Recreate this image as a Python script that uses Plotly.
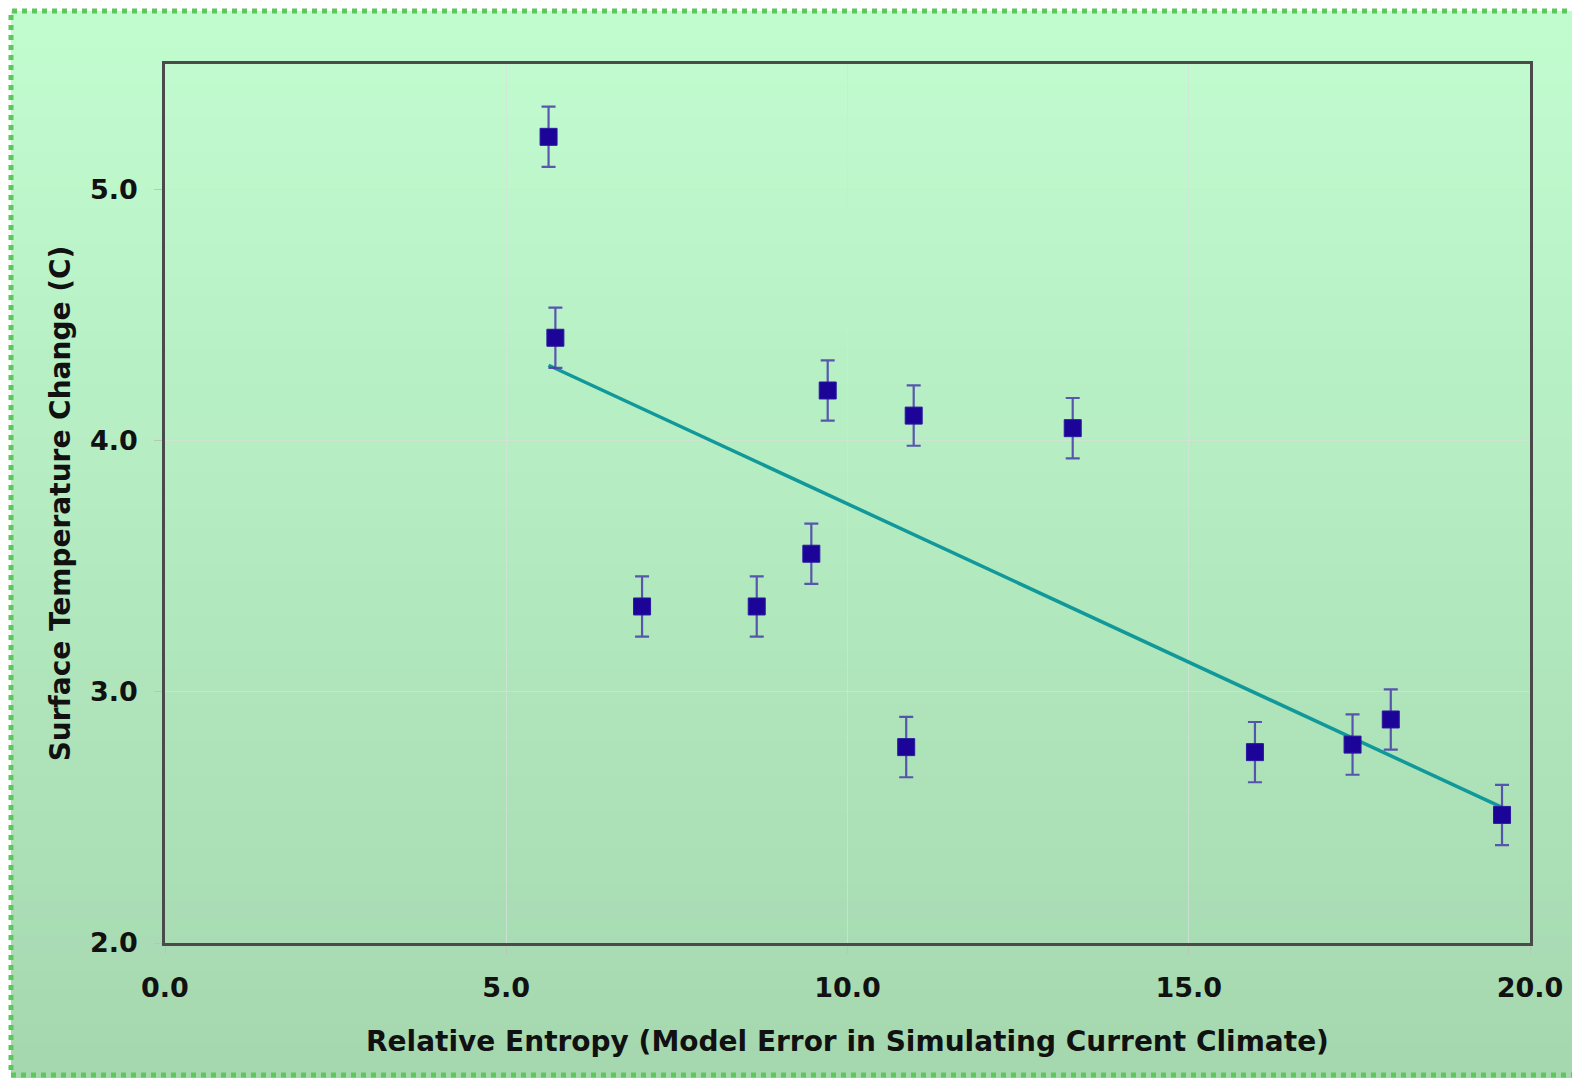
import numpy as np
import plotly.graph_objects as go

# ---- data ----
relative_entropy = [5.62, 5.72, 6.99, 8.67, 9.47, 9.71, 10.97, 10.86, 13.30, 15.97, 17.40, 17.96, 19.59]
temp_change = [5.21, 4.41, 3.34, 3.34, 3.55, 4.20, 4.10, 2.78, 4.05, 2.76, 2.79, 2.89, 2.51]
temp_error = [0.12] * 13

x_ticks = [0.0, 5.0, 10.0, 15.0, 20.0]
y_ticks = [2.0, 3.0, 4.0, 5.0]

x_title = "Relative Entropy (Model Error in Simulating Current Climate)"
y_title = "Surface Temperature Change (C)"

# ---- linear trendline (least squares) ----
slope, intercept = np.polyfit(relative_entropy, temp_change, 1)
trend_x = [min(relative_entropy), max(relative_entropy)]
trend_y = [slope * v + intercept for v in trend_x]

# figure smaller than the window to leave room for the page's body margin
W, H = 1564, 1070
ML, MR, MT, MB = 157, 42, 56, 135
pw, ph = W - ML - MR, H - MT - MB


def px_to_paper_x(px):
    return (px - ML) / pw


def px_to_paper_y(py):
    return (H - MB - py) / ph


fig = go.Figure()

fig.add_trace(go.Scatter(
    x=trend_x, y=trend_y, mode="lines",
    line=dict(color="#11989a", width=3.5),
    showlegend=False, hoverinfo="skip",
))

fig.add_trace(go.Scatter(
    x=relative_entropy, y=temp_change, mode="markers",
    marker=dict(symbol="square", size=17, color="#1c0498",
                line=dict(color="#2a1aa0", width=1)),
    error_y=dict(type="data", array=temp_error, visible=True,
                 color="rgba(70,60,170,0.85)", thickness=2.2, width=7),
    showlegend=False,
))

# ---- background gradient + dotted border ----
shapes = []
x0p, x1p = px_to_paper_x(3), px_to_paper_x(W + 10)
top_py, bot_py = 3, H
n = 60
c_top = np.array([194, 253, 208])
c_bot = np.array([166, 216, 176])
for i in range(n):
    t0 = i / n
    t1 = (i + 1) / n
    py0 = top_py + (bot_py - top_py) * t0
    py1 = top_py + (bot_py - top_py) * t1 + 1
    c = c_top + (c_bot - c_top) * ((t0 + t1) / 2)
    shapes.append(dict(
        type="rect", xref="paper", yref="paper", layer="below",
        x0=x0p, x1=x1p, y0=px_to_paper_y(py1), y1=px_to_paper_y(py0),
        fillcolor="rgb(%d,%d,%d)" % tuple(c.astype(int)), line=dict(width=0),
    ))
shapes.append(dict(
    type="rect", xref="paper", yref="paper", layer="below",
    x0=x0p, x1=x1p, y0=px_to_paper_y(H - 3), y1=px_to_paper_y(top_py),
    fillcolor="rgba(0,0,0,0)", line=dict(color="#5cc75c", width=5, dash="dot"),
))

axis_font = dict(family="DejaVu Sans", size=27, color="#111111")
title_font = dict(family="DejaVu Sans", size=28, color="#111111")

fig.update_layout(
    width=W, height=H,
    margin=dict(l=ML, r=MR, t=MT, b=MB, autoexpand=False),
    paper_bgcolor="white",
    plot_bgcolor="rgba(0,0,0,0)",
    shapes=shapes,
    font=dict(family="DejaVu Sans"),
    xaxis=dict(
        range=[0, 20], tickvals=x_ticks,
        ticktext=["<b>%.1f</b>" % v for v in x_ticks],
        tickfont=axis_font, ticks="outside", ticklen=8, tickcolor="#b8c8b8",
        ticklabelstandoff=11,
        showgrid=True, gridcolor="rgba(215,225,215,0.7)", gridwidth=1,
        zeroline=False, showline=True, linecolor="#4a4a4a", linewidth=2.5, mirror=True,
        title=dict(text="<b>" + x_title + "</b>", font=title_font, standoff=30),
    ),
    yaxis=dict(
        range=[2, 5.5], tickvals=y_ticks,
        ticktext=["<b>%.1f</b>" % v for v in y_ticks],
        tickfont=axis_font, ticks="outside", ticklen=8, tickcolor="#b8c8b8",
        ticklabelstandoff=11,
        showgrid=True, gridcolor="rgba(215,225,215,0.7)", gridwidth=1,
        zeroline=False, showline=True, linecolor="#4a4a4a", linewidth=2.5, mirror=True,
        title=dict(text="<b>" + y_title + "</b>", font=title_font, standoff=12),
    ),
)

fig.write_html("out.html")
